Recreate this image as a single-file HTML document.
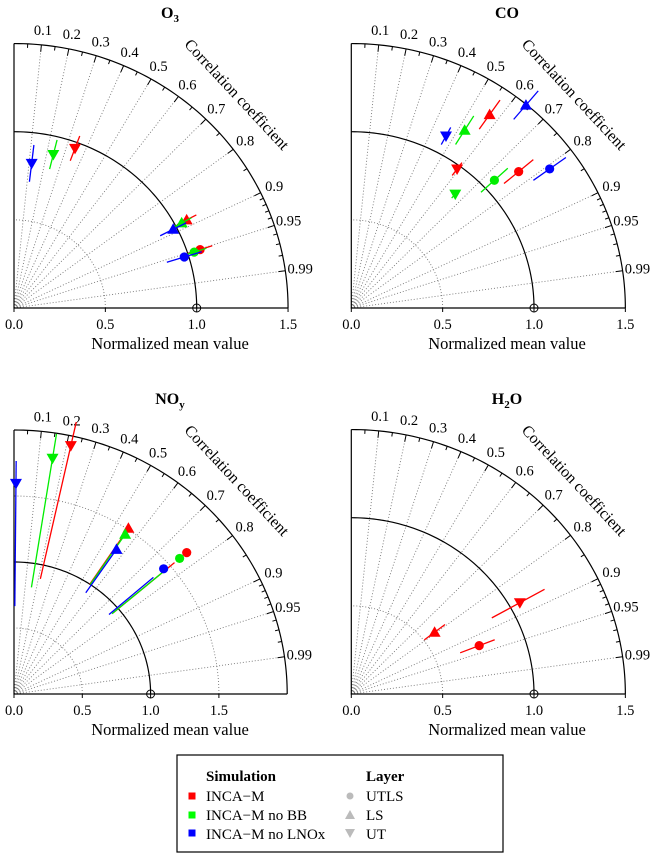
<!DOCTYPE html>
<html><head><meta charset="utf-8">
<style>
html,body{margin:0;padding:0;background:#fff;}
svg{display:block;font-family:"Liberation Serif",serif;}
</style></head>
<body>
<svg id="fig" xmlns="http://www.w3.org/2000/svg" width="654" height="859" viewBox="0 0 654 859">
<g id="panels"></g>
<g>
  <rect x="177" y="755" width="326" height="97" fill="none" stroke="#000" stroke-width="1.2"/>
  <text x="206" y="781" font-size="15" font-weight="bold">Simulation</text>
  <text x="366" y="781" font-size="15" font-weight="bold">Layer</text>
  <rect x="188.5" y="792.5" width="7" height="7" fill="#f00"/>
  <text x="206" y="801" font-size="15">INCA−M</text>
  <rect x="188.5" y="811.5" width="7" height="7" fill="#0f0"/>
  <text x="206" y="820" font-size="15">INCA−M no BB</text>
  <rect x="188.5" y="829.5" width="7" height="7" fill="#00f"/>
  <text x="206" y="839" font-size="15">INCA−M no LNOx</text>
  <circle cx="350" cy="796" r="3.5" fill="#bbb"/>
  <text x="366" y="801" font-size="15">UTLS</text>
  <polygon points="345,819 355,819 350,810" fill="#bbb"/>
  <text x="366" y="820" font-size="15">LS</text>
  <polygon points="345,829 355,829 350,838" fill="#bbb"/>
  <text x="366" y="839" font-size="15">UT</text>
</g>
</svg>
<script>
// ---- data (series order: INCA-M, no BB, no LNOx; layer order: UTLS, LS, UT) ----
const simNames = ["inca-m","no-bb","no-lnox"];
const layerNames = ["utls","ls","ut"];
const corrMajor = [0.1,0.2,0.3,0.4,0.5,0.6,0.7,0.8,0.9,0.95,0.99];
const corrMinor = [0.05,0.15,0.25,0.35,0.45,0.55,0.65,0.75,0.85,0.91,0.92,0.93,0.94,0.96,0.97,0.98];
const xTicksTop = [0.0,0.5,1.0,1.5];
const xTicksBottom = [0.0,0.5,1.0,1.5];

const o3R  = [[1.071,1.069,0.965],[1.036,1.037,0.897],[0.976,0.979,0.826]];
const o3C  = [[0.951,0.884,0.346],[0.952,0.885,0.240],[0.955,0.890,0.117]];
const o3Lo = [[1.00,1.01,0.89],[0.966,0.977,0.812],[0.876,0.899,0.721]];
const o3Hi = [[1.141,1.129,1.04],[1.106,1.097,0.982],[1.076,1.059,0.931]];

const coR  = [[1.199,1.333,0.978],[1.067,1.184,0.861],[1.342,1.496,1.105]];
const coC  = [[0.764,0.568,0.592],[0.734,0.524,0.661],[0.809,0.639,0.469]];
const coLo = [[1.094,1.233,0.933],[0.967,1.089,0.831],[1.232,1.391,1.05]];
const coHi = [[1.304,1.433,1.023],[1.167,1.279,0.891],[1.452,1.601,1.16]];

const noyR  = [[1.657,1.509,1.927],[1.589,1.458,1.808],[1.449,1.328,1.596]];
const noyC  = [[0.763,0.555,0.216],[0.763,0.558,0.156],[0.756,0.565,0.009]];
const noyLo = [[0.95,1.0,0.893],[0.94,1.0,0.818],[0.92,0.93,0.666]];
const noyHi = [[1.54,1.52,2.11],[1.45,1.46,1.995],[1.35,1.33,1.765]];

const h2oR  = [[0.752,0.575,1.058],[null,null,null],[null,null,null]];
const h2oC  = [[0.931,0.793,0.872],[null,null,null],[null,null,null]];
const h2oLo = [[0.64,0.504,0.882],[null,null,null],[null,null,null]];
const h2oHi = [[0.843,0.647,1.213],[null,null,null],[null,null,null]];

const colors = ["#ff0000","#00ee00","#0000ff"];
const NS = "http://www.w3.org/2000/svg";

const panels = [
  {id:"o3", title:"O", sub:"3", ox:14, oy:308, sx:182.7, sy:176.3, rmax:1.5, ticks:xTicksTop, arcs:[0.5], R:o3R, C:o3C, Lo:o3Lo, Hi:o3Hi, tx:170},
  {id:"co", title:"CO", sub:"", ox:351.3, oy:308, sx:182.7, sy:176.3, rmax:1.5, ticks:xTicksTop, arcs:[0.5], R:coR, C:coC, Lo:coLo, Hi:coHi, tx:507},
  {id:"noy", title:"NO", sub:"y", ox:14, oy:694, sx:136.6, sy:132, rmax:2.0, ticks:xTicksBottom, arcs:[0.5,1.5], R:noyR, C:noyC, Lo:noyLo, Hi:noyHi, tx:170},
  {id:"h2o", title:"H", sub:"2", tail:"O", ox:351.3, oy:694, sx:182.7, sy:176.3, rmax:1.5, ticks:xTicksTop, arcs:[0.5], R:h2oR, C:h2oC, Lo:h2oLo, Hi:h2oHi, tx:507}
];

function mk(tag, attrs, parent){
  const e = document.createElementNS(NS, tag);
  for (const k in attrs) e.setAttribute(k, attrs[k]);
  parent.appendChild(e);
  return e;
}
function arcPath(p, r){
  let d = "";
  for (let i=0;i<=90;i++){
    const a = i*Math.PI/180;
    const x = p.ox + p.sx*r*Math.cos(a), y = p.oy - p.sy*r*Math.sin(a);
    d += (i?"L":"M")+x.toFixed(2)+","+y.toFixed(2);
  }
  return d;
}
function pt(p, r, c){
  const s = Math.sqrt(Math.max(0,1-c*c));
  return [p.ox + p.sx*r*c, p.oy - p.sy*r*s];
}

const root = document.getElementById("panels");
panels.forEach(p => {
  const g = mk("g", {}, root);
  
  
  const dx = p.ox - 14, dy = p.oy - 308;

  const t = mk("text", {x:p.tx, y:p.oy-290, "font-size":16, "font-weight":"bold", "text-anchor":"middle"}, g);
  
  
  t.appendChild(document.createTextNode(p.title));
  if (p.sub){
    const ts = mk("tspan", {"font-size":11, dy:4}, t);
    ts.textContent = p.sub;
    if (p.tail){ const t2 = mk("tspan", {dy:-4}, t); t2.textContent = p.tail; }
  }

  corrMajor.forEach(c => {
    const [x,y] = pt(p, p.rmax, c);
    const l = mk("line", {x1:p.ox, y1:p.oy, x2:x, y2:y, stroke:"#777", "stroke-width":0.9, "stroke-dasharray":"1,2"}, g);
    
    
  });
  p.arcs.forEach(r => {
    const a = mk("path", {d:arcPath(p,r), fill:"none", stroke:"#777", "stroke-width":0.9, "stroke-dasharray":"1,2"}, g);
    
    
  });
  const ref = mk("path", {d:arcPath(p,1.0), fill:"none", stroke:"#000", "stroke-width":1.2}, g);
  
  
  const outer = mk("path", {d:arcPath(p,p.rmax), fill:"none", stroke:"#000", "stroke-width":1.2}, g);
  
  
  const ax = mk("path", {d:`M${p.ox},${p.oy - p.sy*p.rmax}L${p.ox},${p.oy}L${p.ox+p.sx*p.rmax},${p.oy}`, fill:"none", stroke:"#000", "stroke-width":1.2}, g);
  
  

  const Rp = p.sx*p.rmax, Rq = p.sy*p.rmax;
  function tick(c, len, name){
    const s = Math.sqrt(1-c*c);
    const x1 = p.ox + Rp*c, y1 = p.oy - Rq*s;
    const x2 = p.ox + (Rp-len)*c, y2 = p.oy - (Rq-len)*s;
    const l = mk("line", {x1, y1, x2, y2, stroke:"#000", "stroke-width":1}, g);
    
    
  }
  corrMajor.forEach(c => tick(c, 7, 'correlation-tick'));
  corrMinor.forEach(c => tick(c, 4, 'correlation-minor-tick'));
  corrMajor.forEach(c => {
    const s = Math.sqrt(1-c*c);
    const x = p.ox + (Rp+15)*c, y = p.oy - (Rq+15)*s + 5;
    const l = mk("text", {x, y, "font-size":14.5, "text-anchor":"middle"}, g);
    
    
    l.textContent = String(c);
  });
  const ct = mk("text", {x:0, y:0, "font-size":16, "text-anchor":"middle", transform:`translate(${233+dx},${98+dy}) rotate(47)`}, g);
  
  
  ct.textContent = "Correlation coefficient";

  p.ticks.forEach(v => {
    const x = p.ox + p.sx*v;
    const l = mk("line", {x1:x, y1:p.oy, x2:x, y2:p.oy+4, stroke:"#000", "stroke-width":1}, g);
    
    
    const tl = mk("text", {x, y:p.oy+21, "font-size":14.5, "text-anchor":"middle"}, g);
    
    
    tl.textContent = v.toFixed(1);
  });
  const xt = mk("text", {x:p.tx, y:p.oy+41, "font-size":16.5, "text-anchor":"middle"}, g);
  
  
  xt.textContent = "Normalized mean value";
  const rp = mk("circle", {cx:p.ox+p.sx, cy:p.oy, r:4, fill:"none", stroke:"#000", "stroke-width":1}, g);
  
  

  for (let s=0;s<3;s++){
    for (let k=0;k<3;k++){
      const r = p.R[s][k], c = p.C[s][k];
      if (r == null) continue;
      const [x1,y1] = pt(p, p.Lo[s][k], c);
      const [x2,y2] = pt(p, p.Hi[s][k], c);
      const eb = mk("line", {x1, y1, x2, y2, stroke:colors[s], "stroke-width":1.3}, g);
      
      
      const [x,y] = pt(p, r, c);
      let m;
      if (k===0) m = mk("circle", {cx:x, cy:y, r:4.6, fill:colors[s]}, g);
      else if (k===1) m = mk("polygon", {points:`${x-6},${y+4.5} ${x+6},${y+4.5} ${x},${y-6}`, fill:colors[s]}, g);
      else m = mk("polygon", {points:`${x-6},${y-4.5} ${x+6},${y-4.5} ${x},${y+6}`, fill:colors[s]}, g);
      
      
    }
  }
});
</script>
</body></html>
